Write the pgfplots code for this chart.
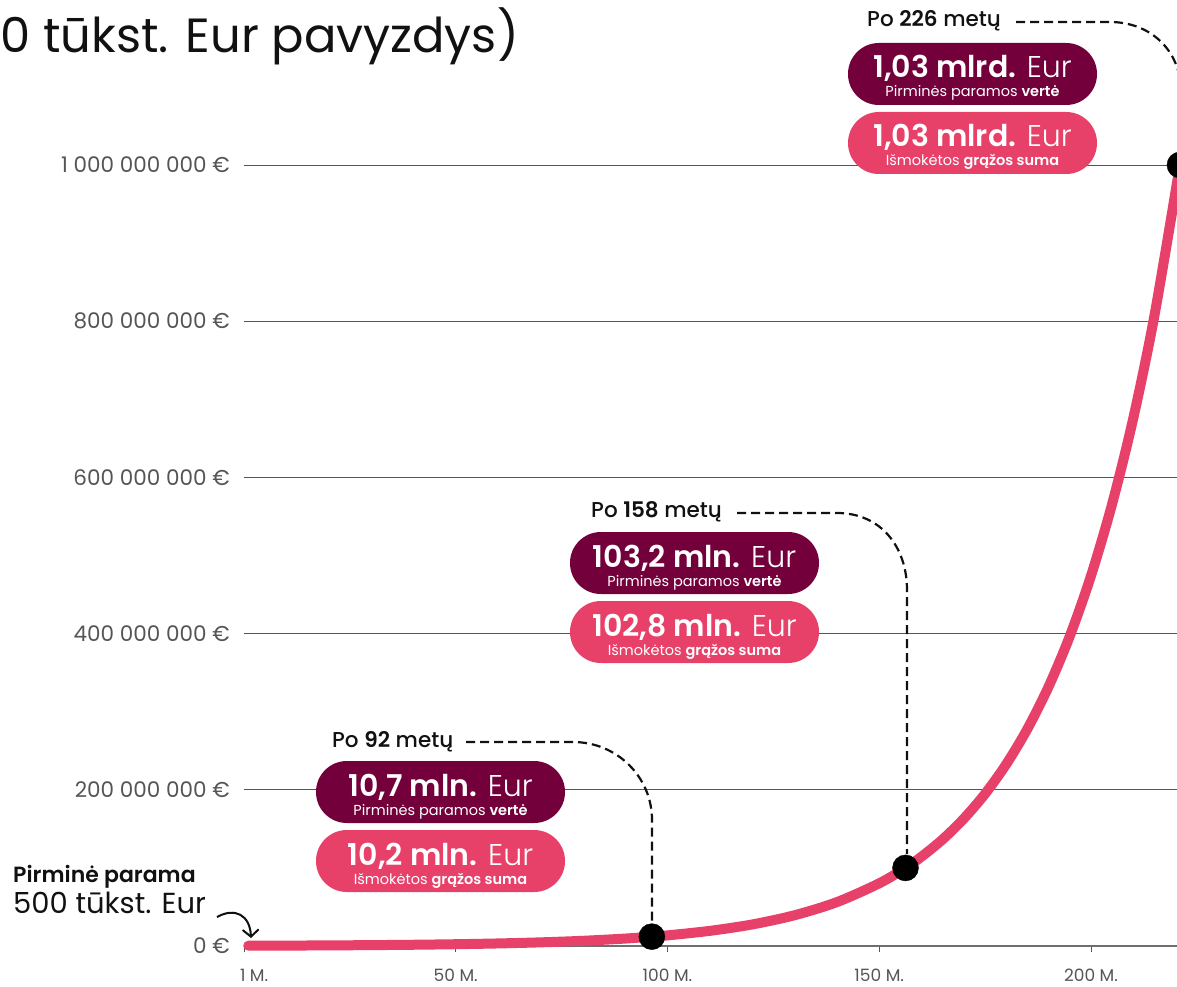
\documentclass[border=0pt]{standalone}
\usepackage{fontspec}
\setmainfont{Poppins}
\newfontfamily\med{Poppins Medium}
\newfontfamily\semi{Poppins SemiBold}
\newfontfamily\light{Poppins Light}
\usepackage{pgfplots}
\pgfplotsset{compat=1.18}
\usetikzlibrary{arrows.meta}
\definecolor{rose}{HTML}{E7416A}
\definecolor{plum}{HTML}{74003B}
\definecolor{ink}{HTML}{111111}
\definecolor{tickgray}{HTML}{555555}
\newcommand\fs[1]{\fontsize{#1}{#1}\selectfont}
% pill: x, top y, colour, first line, second line
\newcommand\pill[5]{%
  \fill[#3, rounded corners=30.9pt] (#1,#2) rectangle ++(249,62);
  \node[anchor=base, text=white, inner sep=0pt] at (#1+124.5,#2+35) {#4};
  \node[anchor=base, text=white, inner sep=0pt] at (#1+124.5,#2+54) {#5};
}
\newcommand\amt[2]{\fs{30}{\semi #1} {\light #2}}
\newcommand\sub[2]{\fs{14.5}#1 {\semi #2}}
\begin{document}
\begin{tikzpicture}
\useasboundingbox (0,0) rectangle (1177pt,-987pt);
\clip (0,0) rectangle (1177pt,-987pt);
\begin{axis}[
    at={(244pt,-946pt)}, anchor=south west,
    x=4.235pt, y=0.781pt,
    xmin=0, xmax=232, ymin=0, ymax=1000,
    clip=false,
    axis x line*=bottom, axis y line*=left,
    x axis line style={-, tickgray!85, line width=2pt},
    y axis line style={draw=none},
    ytick={0,200,400,600,800,1000},
    yticklabels={0 €, 200 000 000 €, 400 000 000 €, 600 000 000 €, 800 000 000 €, 1 000 000 000 €},
    xtick={0,50,100,150,200},
    xticklabels={{\rlap{\kern-4pt 1 M.}}, 50 M., 100 M., 150 M., 200 M.},
    ytick style={draw=none},
    xtick style={tickgray, line width=1pt},
    tick align=outside, major tick length=6pt,
    ymajorgrids, grid style={tickgray, line width=1pt},
    yticklabel style={font=\fs{21.5}, text=tickgray, inner sep=0pt, xshift=-8pt},
    xticklabel style={font=\fs{17}, text=tickgray, inner sep=0pt, yshift=-17pt},
]
\addplot[rose, line width=10pt, line cap=round, smooth] coordinates {
    (1,0.40) (10,0.55) (20,0.79) (30,1.13) (40,1.61) (50,2.30)
    (60,3.28) (70,4.68) (80,6.67) (90,9.52) (96.3,12.0) (100,13.6)
    (110,19.4) (120,27.6) (130,39.4) (140,56.2) (150,80.3) (156.2,100)
    (160,114.5) (165,136.7) (170,163.3) (175,195.0) (180,232.9)
    (185,278.2) (190,332.3) (195,396.9) (200,474.1) (205,566.3)
    (210,676.3) (215,807.9) (221,1000)
};
\addplot[only marks, mark=*, mark size=13pt, black] coordinates {
    (96.3,12.0) (156.2,100) (221,1000)
};
\end{axis}
\begin{scope}[x=1pt, y=-1pt]
  \node[anchor=base east, inner sep=0pt, text=ink] at (519,53) {\fs{48}(500 tūkst. Eur pavyzdys)};
  \node[anchor=base west, inner sep=0pt, text=ink] at (13,882) {\fs{22}\semi Pirminė parama};
  \node[anchor=base west, inner sep=0pt, text=ink] at (13,913) {\fs{29}500 tūkst. Eur};
  \draw[ink, line width=2pt, -{Straight Barb[length=7pt,width=16pt]}]
    (217,917) .. controls (235,907) and (250,915) .. (251,938);
  % leader lines
  \begin{scope}[ink, line width=2.2pt, dash pattern=on 9pt off 5pt]
    \draw (466,742) -- (573,742) .. controls (617,742) and (652,777) .. (652,820) -- (652,922);
    \draw (737,513) -- (837,513) .. controls (881,513) and (907,547) .. (907,590) -- (907,854);
    \draw (1016,22) -- (1110,22) .. controls (1150,22) and (1181,50) .. (1181,92) -- (1181,151);
  \end{scope}
  \node[anchor=base west, inner sep=0pt, text=ink] at (332,747) {\fs{21.5}\med Po {\semi 92} metų};
  \node[anchor=base west, inner sep=0pt, text=ink] at (591,517) {\fs{21.5}\med Po {\semi 158} metų};
  \node[anchor=base west, inner sep=0pt, text=ink] at (867,27) {\fs{21.5}\med Po {\semi 226} metų};
  \pill{316}{761}{plum}{\amt{10,7 mln.}{Eur}}{\sub{Pirminės paramos}{vertė}}
  \pill{316}{830}{rose}{\amt{10,2 mln.}{Eur}}{\sub{Išmokėtos}{grąžos suma}}
  \pill{570}{532}{plum}{\amt{103,2 mln.}{Eur}}{\sub{Pirminės paramos}{vertė}}
  \pill{570}{601}{rose}{\amt{102,8 mln.}{Eur}}{\sub{Išmokėtos}{grąžos suma}}
  \pill{848}{43}{plum}{\amt{1,03 mlrd.}{Eur}}{\sub{Pirminės paramos}{vertė}}
  \pill{848}{112}{rose}{\amt{1,03 mlrd.}{Eur}}{\sub{Išmokėtos}{grąžos suma}}
\end{scope}
\end{tikzpicture}
\end{document}
